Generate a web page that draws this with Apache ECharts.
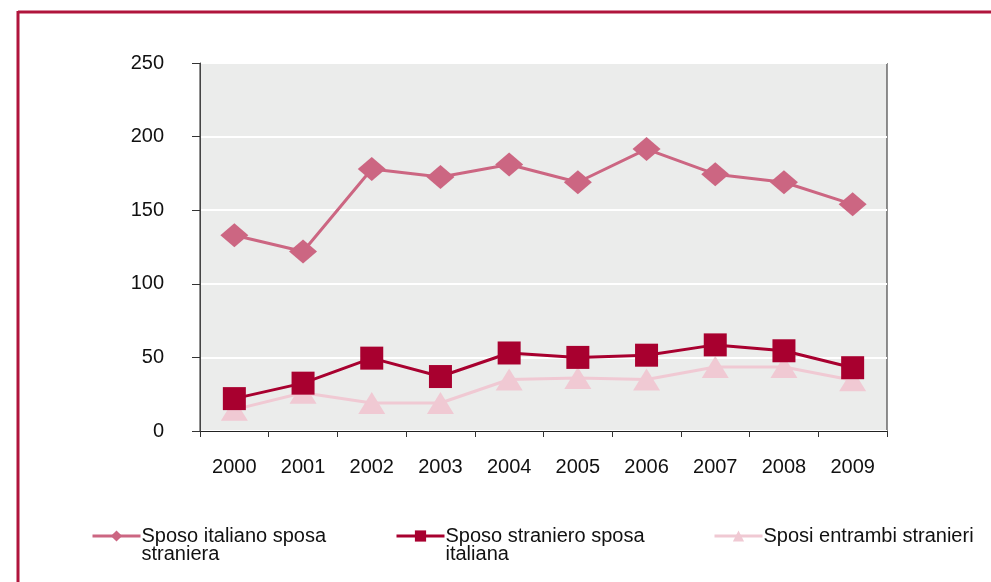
<!DOCTYPE html>
<html>
<head>
<meta charset="utf-8">
<script src="https://cdn.jsdelivr.net/npm/echarts@6/dist/echarts.min.js"></script>
<style>
  html, body { margin: 0; padding: 0; background: #fff; }
  #chart { width: 991px; height: 582px; }
</style>
</head>
<body>
<div id="chart"></div>
<script>
const years = ['2000', '2001', '2002', '2003', '2004', '2005', '2006', '2007', '2008', '2009'];
const italianoStraniera = [133, 122, 178, 172.5, 181, 169, 191.5, 174.5, 169, 154];
const stranieroItaliana = [22, 32.5, 49.5, 37, 53, 50, 51.5, 58.5, 54.5, 43];
const entrambiStranieri = [14.5, 26, 19, 19, 35, 36, 35, 43.5, 43.5, 34.5];
const seriesNames = ['Sposo italiano sposa\nstraniera', 'Sposo straniero sposa\nitaliana', 'Sposi entrambi stranieri'];

const font = '"Liberation Sans", Arial, sans-serif';
const chart = echarts.init(document.getElementById('chart'));

function legendFor(name, left, top) {
  return {
    data: [name],
    left: left,
    top: top,
    padding: 0,
    itemWidth: 48,
    itemHeight: 14,
    itemGap: 0,
    selectedMode: false,
    lineStyle: { width: 3 },
    // blank first line keeps the icon aligned with the first text line
    formatter: n => n.indexOf('\n') >= 0 ? '\n' + n : n,
    textStyle: { fontFamily: font, fontSize: 20, color: '#111', lineHeight: 18, padding: [0, 0, 0, -4] }
  };
}

const option = {
  animation: false,
  backgroundColor: '#fff',
  grid: {
    left: 200,
    right: 104,
    top: 63,
    bottom: 151,
    show: true,
    backgroundColor: '#EBECEB',
    borderColor: '#222',
    borderWidth: 1
  },
  legend: [
    legendFor(seriesNames[0], 91, 508),
    legendFor(seriesNames[1], 395, 508),
    legendFor(seriesNames[2], 713, 526)
  ],
  xAxis: {
    type: 'category',
    data: years,
    boundaryGap: true,
    axisLine: { lineStyle: { color: '#222', width: 1 } },
    axisTick: { show: true, length: 6, lineStyle: { color: '#333' } },
    axisLabel: { margin: 26, fontFamily: font, fontSize: 20, color: '#111' },
    splitLine: { show: false }
  },
  yAxis: {
    type: 'value',
    min: 0,
    max: 250,
    interval: 50,
    axisLine: { show: true, lineStyle: { color: '#444', width: 1 } },
    axisTick: { show: true, length: 8, lineStyle: { color: '#333' } },
    axisLabel: { margin: 36, fontFamily: font, fontSize: 20, color: '#111' },
    splitLine: { lineStyle: { color: '#fff', width: 2 } }
  },
  series: [
    {
      name: seriesNames[0],
      type: 'line',
      z: 4,
      data: italianoStraniera,
      symbol: 'diamond',
      symbolSize: [28, 24],
      itemStyle: { color: '#CC6682' },
      lineStyle: { color: '#CC6682', width: 3 }
    },
    {
      name: seriesNames[1],
      type: 'line',
      z: 3,
      data: stranieroItaliana,
      symbol: 'rect',
      symbolSize: 23,
      itemStyle: { color: '#A8002F' },
      lineStyle: { color: '#A8002F', width: 3 }
    },
    {
      name: seriesNames[2],
      type: 'line',
      z: 2,
      data: entrambiStranieri,
      symbol: 'triangle',
      symbolSize: [27, 22],
      itemStyle: { color: '#F0C9D3' },
      lineStyle: { color: '#F0C9D3', width: 3 }
    }
  ],
  graphic: [
    { type: 'line', shape: { x1: 18, y1: 12, x2: 991, y2: 12 }, style: { stroke: '#B0153C', lineWidth: 3 } },
    { type: 'line', shape: { x1: 18, y1: 11, x2: 18, y2: 582 }, style: { stroke: '#B0153C', lineWidth: 3 } }
  ]
};

chart.setOption(option);
</script>
</body>
</html>
